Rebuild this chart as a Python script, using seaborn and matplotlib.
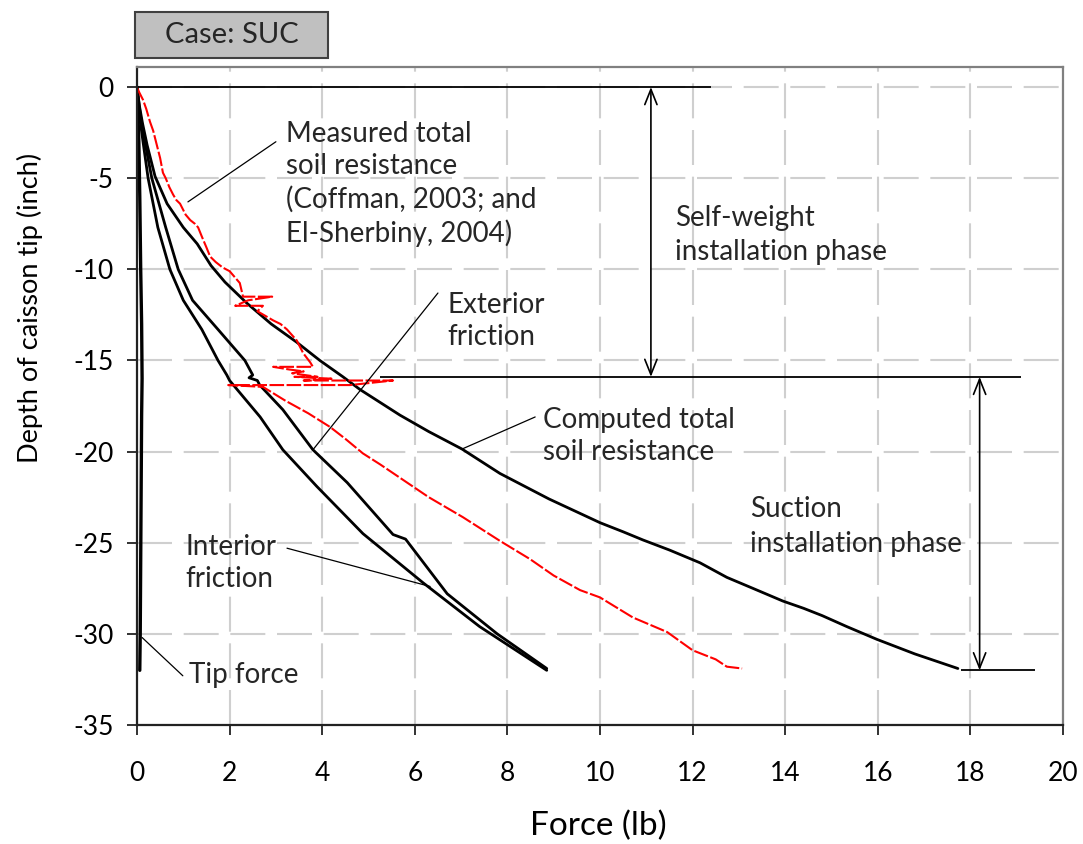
import numpy as np
import pandas as pd
import matplotlib
matplotlib.use("Agg")
import matplotlib.pyplot as plt
import seaborn as sns
from matplotlib.patches import Rectangle

# ---------------- data ----------------
computed_force = [0, 0.05, 0.12, 0.22, 0.39, 0.65, 1.0, 1.3, 1.6, 1.9, 2.37, 2.9, 3.45, 3.95,
                  4.45, 4.82, 5.68, 6.3, 7.02, 7.84, 8.9, 10.0, 10.5, 10.93, 11.5, 12.16, 12.74,
                  13.3, 13.95, 14.4, 14.8, 15.33, 15.98, 16.8, 17.73]
computed_depth = [0, -1.0, -2.0, -3.2, -4.9, -6.4, -7.7, -8.6, -9.8, -10.7, -11.85, -13.0, -14.0, -15.0,
                  -15.9, -16.6, -18.0, -18.9, -19.86, -21.2, -22.6, -23.9, -24.4, -24.85, -25.4, -26.1, -26.9,
                  -27.5, -28.2, -28.6, -29.0, -29.6, -30.3, -31.1, -31.9]

measured_force = [0, 0.05, 0.13, 0.2, 0.28, 0.35, 0.42, 0.5, 0.56, 0.62, 0.7, 0.78, 0.85, 0.93,
                  1.05, 1.15, 1.25, 1.32, 1.4, 1.5, 1.58, 1.7, 1.85, 2.0, 2.22, 2.29, 2.92, 2.4,
                  2.12, 2.72, 2.6, 2.94, 3.1, 3.24, 3.45, 3.59, 3.74, 3.8, 2.94, 3.3, 3.6, 3.35,
                  3.9, 3.4, 4.2, 3.6, 5.53, 4.6, 1.97, 2.72, 3.2, 3.7, 4.17, 4.5, 4.88, 5.25,
                  5.6, 6.3, 7.04, 7.84, 8.49, 9.0, 9.57, 10.0, 10.71, 11.45, 12.0, 12.5, 12.74, 13.07]
measured_depth = [0, -0.3, -0.7, -1.2, -1.9, -2.4, -3.1, -3.9, -4.7, -5.0, -5.5, -5.9, -6.2, -6.4,
                  -7.0, -7.3, -7.5, -7.7, -8.2, -8.8, -9.3, -9.6, -9.9, -10.1, -10.75, -11.5, -11.5, -11.7,
                  -12.0, -12.0, -12.3, -12.8, -13.0, -13.3, -13.9, -14.6, -15.1, -15.35, -15.35, -15.5, -15.6, -15.7,
                  -15.9, -15.9, -16.0, -16.1, -16.1, -16.35, -16.35, -16.45, -17.2, -17.9, -18.65, -19.3, -20.1, -20.7,
                  -21.3, -22.5, -23.6, -24.9, -25.9, -26.8, -27.6, -28.0, -29.1, -29.9, -30.9, -31.4, -31.8, -31.9]

interior_force = [0, 0.05, 0.13, 0.24, 0.45, 0.71, 1.0, 1.4, 1.75, 1.94, 2.0, 2.66, 3.15, 3.88,
                  4.88, 6.18, 7.4, 8.85]
interior_depth = [0, -1.5, -3.0, -5.0, -7.7, -10.0, -11.7, -13.3, -15.0, -15.8, -16.1, -18.1, -19.9, -21.9,
                  -24.5, -27.2, -29.6, -32.0]

exterior_force = [0, 0.07, 0.17, 0.32, 0.62, 0.89, 1.2, 1.75, 2.33, 2.5, 2.42, 2.6, 2.65, 3.15,
                  3.8, 4.54, 5.53, 5.8, 6.7, 7.78, 8.85]
exterior_depth = [0, -1.5, -3.0, -5.0, -7.7, -10.0, -11.7, -13.3, -15.0, -15.8, -15.95, -16.1, -16.35, -17.7,
                  -19.9, -21.7, -24.55, -24.8, -27.8, -30.0, -31.9]

tip_force = [0, 0.04, 0.06, 0.08, 0.1, 0.11, 0.1, 0.09, 0.08, 0.07, 0.06]
tip_depth = [0, -3, -6, -10, -13, -16, -18, -22, -26, -30, -32]

x_ticks = [0, 2, 4, 6, 8, 10, 12, 14, 16, 18, 20]
y_ticks = [0, -5, -10, -15, -20, -25, -30, -35]

# phase boundaries (depth, inch)
selfweight_end = -15.9
suction_end = -32.0

# ---------------- style ----------------
sns.set_theme(style="white")
plt.rcParams["font.family"] = ["Lato", "DejaVu Sans"]
plt.rcParams["axes.unicode_minus"] = False

fig = plt.figure(figsize=(10.83, 8.44), dpi=100)
ax = fig.add_axes([0.1265, 0.141, 0.8550, 0.7796])

ax.set_xlim(0, 20)
ax.set_ylim(-35, 1.1)
ax.set_xticks(x_ticks)
ax.set_yticks(y_ticks)
ax.set_axisbelow(True)
ax.grid(True, color="#cfcfcf", lw=1.5, linestyle=(0, (16.8, 5.6)))

def draw(xs, ys, **kw):
    assert len(xs) == len(ys)
    df = pd.DataFrame({"force": xs, "depth": ys})
    sns.lineplot(data=df, x="force", y="depth", sort=False, estimator=None, ax=ax, **kw)

draw(tip_force, tip_depth, color="black", lw=2.4)
draw(interior_force, interior_depth, color="black", lw=2.0)
draw(exterior_force, exterior_depth, color="black", lw=2.0)
draw(computed_force, computed_depth, color="black", lw=2.0)
draw(measured_force, measured_depth, color="#ff0000", lw=1.5, linestyle=(0, (7, 1.2)))

# phase reference lines
ax.hlines(0, 0, 12.4, color="black", lw=1.3)
ax.hlines(selfweight_end, 5.25, 19.1, color="black", lw=1.3)
ax.hlines(suction_end, 17.8, 19.4, color="black", lw=1.3)
arrow_kw = dict(arrowstyle="<->,head_length=0.55,head_width=0.22", color="black", lw=1.2,
                shrinkA=0, shrinkB=0, mutation_scale=20)
ax.annotate("", xy=(11.1, 0), xytext=(11.1, selfweight_end), arrowprops=arrow_kw)
ax.annotate("", xy=(18.2, selfweight_end), xytext=(18.2, suction_end), arrowprops=arrow_kw)

# labels with leader lines (y = baseline of the LAST line)
lead = dict(arrowstyle="-", color="black", lw=0.9, shrinkA=0, shrinkB=0)
fs = 20
ax.text(3.22, -8.5, "Measured total\nsoil resistance\n(Coffman, 2003; and\nEl-Sherbiny, 2004)",
        fontsize=fs, ha="left", va="baseline", linespacing=1.3)
ax.annotate("", xy=(1.1, -6.3), xytext=(3.0, -3.0), arrowprops=lead)

ax.text(6.7, -14.15, "Exterior\nfriction", fontsize=fs, ha="left", va="baseline", linespacing=1.3)
ax.annotate("", xy=(3.8, -19.9), xytext=(6.5, -11.3), arrowprops=lead)

ax.text(8.77, -20.46, "Computed total\nsoil resistance", fontsize=fs, ha="left", va="baseline",
        linespacing=1.3)
ax.annotate("", xy=(7.02, -19.86), xytext=(8.6, -18.1), arrowprops=lead)

ax.text(11.62, -9.49, "Self-weight\ninstallation phase", fontsize=fs, ha="left", va="baseline",
        linespacing=1.4)
ax.text(13.24, -25.5, "Suction\ninstallation phase", fontsize=fs, ha="left", va="baseline",
        linespacing=1.4)

ax.text(1.04, -27.43, "Interior\nfriction", fontsize=fs, ha="left", va="baseline", linespacing=1.3)
ax.annotate("", xy=(6.33, -27.4), xytext=(3.24, -25.3), arrowprops=lead)

ax.text(1.12, -32.7, "Tip force", fontsize=fs, ha="left", va="baseline")
ax.annotate("", xy=(0.11, -30.2), xytext=(0.99, -32.3), arrowprops=lead)

# axes cosmetics
for side in ["left", "bottom"]:
    ax.spines[side].set_color("#222222")
    ax.spines[side].set_linewidth(1.6)
for side in ["top", "right"]:
    ax.spines[side].set_color("#808080")
    ax.spines[side].set_linewidth(1.6)

ax.tick_params(axis="both", which="both", bottom=True, left=True, direction="out",
               length=7, width=1.3, color="#222222", labelsize=19, labelcolor="black")
ax.tick_params(axis="x", pad=19)
ax.tick_params(axis="y", pad=10)

ax.set_xlabel("Force (lb)", fontsize=24, color="black")
ax.set_ylabel("Depth of caisson tip (inch)", fontsize=19.5, color="black")
ax.xaxis.set_label_coords(0.498, -0.13)
ax.yaxis.set_label_coords(-0.102, 0.634)

# case box
fig.patches.append(Rectangle((135 / 1083, 1 - 58 / 844), 193 / 1083, 46 / 844,
                             transform=fig.transFigure, facecolor="#c0c0c0",
                             edgecolor="#404040", lw=1.5))
fig.text(231.5 / 1083, 1 - 35 / 844, "Case: SUC", fontsize=21, ha="center", va="center")

fig.savefig("out.png", dpi=100)
